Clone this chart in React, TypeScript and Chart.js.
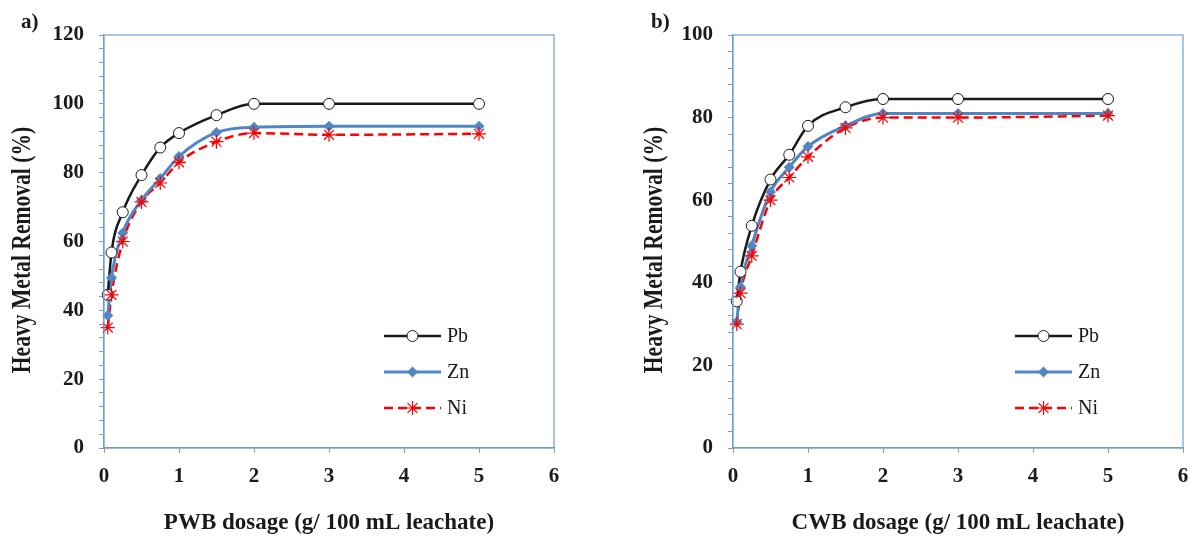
import React, { useEffect, useRef } from "react";
import { Chart, registerables } from "chart.js";
Chart.register(...registerables);

const dosage = [0.05, 0.1, 0.25, 0.5, 0.75, 1, 1.5, 2, 3, 5];

const pwbPb = [44.5, 56.8, 68.5, 79.3, 87.3, 91.5, 96.7, 100, 100, 100];
const pwbZn = [38.5, 49.5, 62.5, 72, 78.3, 84.7, 91.7, 93.2, 93.5, 93.5];
const pwbNi = [35, 44.5, 60, 71.5, 77, 83, 89, 91.5, 91, 91.3];

const cwbPb = [35.5, 42.7, 53.8, 65, 71, 78, 82.5, 84.5, 84.5, 84.5];
const cwbZn = [30.5, 39, 49, 62, 68, 73, 78, 81, 81, 81];
const cwbNi = [30, 37.5, 46.5, 60, 65.5, 70.5, 77.5, 80, 80, 80.5];

const seriesNames = ["Pb", "Zn", "Ni"];
const yTitleText = "Heavy Metal Removal (%)";
const xMin = 0;
const xMax = 6;
const yMaxA = 120;
const yMaxB = 100;
const yLabelStep = 20;
const yMinorStep = 4;

const SERIF = "'Liberation Serif', 'Times New Roman', serif";
const BORDER = "#6F9FD0";
const TICKC = "#9A9A9A";
const TEXTC = "#1a1a1a";

const COLORS = ["#1A1A1A", "#4F86C3", "#FF0000"];

function drawMarker(ctx: CanvasRenderingContext2D, i: number, x: number, y: number) {
  ctx.save();
  ctx.setLineDash([]);
  if (i === 0) {
    ctx.beginPath();
    ctx.arc(x, y, 5.5, 0, Math.PI * 2);
    ctx.fillStyle = "#ffffff";
    ctx.fill();
    ctx.lineWidth = 1;
    ctx.strokeStyle = COLORS[0];
    ctx.stroke();
  } else if (i === 1) {
    const r = 5.5;
    ctx.beginPath();
    ctx.moveTo(x, y - r);
    ctx.lineTo(x + r, y);
    ctx.lineTo(x, y + r);
    ctx.lineTo(x - r, y);
    ctx.closePath();
    ctx.fillStyle = COLORS[1];
    ctx.fill();
  } else {
    const r = 7;
    ctx.strokeStyle = COLORS[2];
    ctx.lineWidth = 1.2;
    ctx.beginPath();
    for (let k = 0; k < 4; k++) {
      const a = (k * Math.PI) / 4;
      ctx.moveTo(x - r * Math.cos(a), y - r * Math.sin(a));
      ctx.lineTo(x + r * Math.cos(a), y + r * Math.sin(a));
    }
    ctx.stroke();
  }
  ctx.restore();
}

function makeLegendPlugin(x0: number, y0: number) {
  return {
    id: "customLegend",
    afterDatasetsDraw(chart: any) {
      const ctx: CanvasRenderingContext2D = chart.ctx;
      chart.data.datasets.forEach((ds: any, i: number) => {
        const y = y0 + i * 36;
        ctx.save();
        ctx.strokeStyle = ds.borderColor;
        ctx.lineWidth = ds.borderWidth;
        ctx.setLineDash(ds.borderDash || []);
        ctx.beginPath();
        ctx.moveTo(x0, y);
        ctx.lineTo(x0 + 57, y);
        ctx.stroke();
        ctx.restore();
        drawMarker(ctx, i, x0 + 28.5, y);
        ctx.save();
        ctx.fillStyle = TEXTC;
        ctx.font = `20px ${SERIF}`;
        ctx.textBaseline = "middle";
        ctx.textAlign = "left";
        ctx.fillText(ds.label, x0 + 63, y + 1);
        ctx.restore();
      });
    },
  };
}

function makeYTitlePlugin(cx: number, cy: number) {
  return {
    id: "yTitle",
    afterDraw(chart: any) {
      const ctx: CanvasRenderingContext2D = chart.ctx;
      ctx.save();
      ctx.translate(cx, cy);
      ctx.rotate(-Math.PI / 2);
      ctx.scale(0.8, 1);
      ctx.fillStyle = TEXTC;
      ctx.font = `bold 27px ${SERIF}`;
      ctx.textAlign = "center";
      ctx.textBaseline = "middle";
      ctx.fillText(yTitleText, 0, 0);
      ctx.restore();
    },
  };
}

const borderPlugin = {
  id: "areaBorder",
  afterDraw(chart: any) {
    const { left, top, right, bottom } = chart.chartArea;
    const ctx: CanvasRenderingContext2D = chart.ctx;
    ctx.save();
    ctx.strokeStyle = BORDER;
    ctx.lineWidth = 1.2;
    ctx.strokeRect(left, top, right - left, bottom - top);
    ctx.restore();
  },
};

const markerPlugin = {
  id: "markers",
  afterDatasetsDraw(chart: any) {
    const ctx: CanvasRenderingContext2D = chart.ctx;
    chart.data.datasets.forEach((ds: any, i: number) => {
      const meta = chart.getDatasetMeta(i);
      meta.data.forEach((pt: any) => drawMarker(ctx, i, pt.x, pt.y));
    });
  },
};

type PanelProps = {
  pb: number[];
  zn: number[];
  ni: number[];
  yMax: number;
  xTitle: string;
  yAxisWidth: number;
  yTitleX: number;
  padRight: number;
  legendX: number;
};

function Panel(p: PanelProps) {
  const ref = useRef<HTMLCanvasElement>(null);
  useEffect(() => {
    if (!ref.current) return;
    const mk = (label: string, data: number[], i: number) => ({
      label,
      data: dosage.map((x, k) => ({ x, y: data[k] })),
      borderColor: COLORS[i],
      backgroundColor: COLORS[i],
      borderWidth: i === 0 ? 2.5 : i === 1 ? 3 : 2.5,
      borderDash: i === 2 ? [9, 5] : [],
      pointRadius: 0,
      cubicInterpolationMode: "monotone" as const,
      fill: false,
    });
    const chart = new Chart(ref.current, {
      type: "line",
      data: {
        datasets: [
          mk(seriesNames[0], p.pb, 0),
          mk(seriesNames[1], p.zn, 1),
          mk(seriesNames[2], p.ni, 2),
        ],
      },
      options: {
        animation: false,
        responsive: false,
        maintainAspectRatio: false,
        layout: { padding: { left: 0, right: p.padRight, top: 35, bottom: 0 } },
        plugins: { legend: { display: false }, tooltip: { enabled: false } },
        scales: {
          x: {
            type: "linear",
            min: xMin,
            max: xMax,
            afterFit: (s: any) => {
              s.height = 88;
              s.paddingLeft = 0;
              s.paddingRight = 0;
            },
            ticks: {
              stepSize: 1,
              autoSkip: false,
              maxRotation: 0,
              padding: 11,
              color: TEXTC,
              font: { family: SERIF, size: 21, weight: "bold" },
            },
            grid: {
              display: true,
              drawOnChartArea: false,
              drawTicks: true,
              tickLength: 5,
              color: TICKC,
            },
            border: { display: true, color: BORDER, width: 1.2 },
            title: {
              display: true,
              text: p.xTitle,
              color: TEXTC,
              font: { family: SERIF, size: 23, weight: "bold", lineHeight: 1 },
              padding: { top: 0, bottom: 1 },
            },
          },
          y: {
            type: "linear",
            min: 0,
            max: p.yMax,
            afterFit: (s: any) => {
              s.width = p.yAxisWidth;
              s.paddingTop = 0;
              s.paddingBottom = 0;
            },
            ticks: {
              stepSize: yMinorStep,
              autoSkip: false,
              padding: 15,
              color: TEXTC,
              font: { family: SERIF, size: 21, weight: "bold" },
              callback: (v: any) => (Number(v) % yLabelStep === 0 ? String(v) : ""),
            },
            grid: {
              display: true,
              drawOnChartArea: false,
              drawTicks: true,
              tickLength: 5,
              color: TICKC,
            },
            border: { display: true, color: BORDER, width: 1.2 },
            title: { display: false },
          },
        },
      },
      plugins: [borderPlugin, markerPlugin, makeLegendPlugin(p.legendX, 336), makeYTitlePlugin(p.yTitleX, 250)],
    } as any);
    return () => chart.destroy();
  }, []);
  return <canvas ref={ref} width={595} height={536} style={{ display: "block", width: 595, height: 536 }} />;
}

export default function App() {
  return (
    <div style={{ position: "fixed", left: 0, top: 0, width: 1190, height: 536, background: "#fff" }}>
      <div style={{ position: "absolute", left: 0, top: 0 }}>
        <Panel
          pb={pwbPb}
          zn={pwbZn}
          ni={pwbNi}
          yMax={yMaxA}
          xTitle="PWB dosage (g/ 100 mL leachate)"
          yAxisWidth={104}
          yTitleX={23}
          padRight={41}
          legendX={384}
        />
      </div>
      <div style={{ position: "absolute", left: 595, top: 0 }}>
        <Panel
          pb={cwbPb}
          zn={cwbZn}
          ni={cwbNi}
          yMax={yMaxB}
          xTitle="CWB dosage (g/ 100 mL leachate)"
          yAxisWidth={138}
          yTitleX={60}
          padRight={7}
          legendX={420}
        />
      </div>
      <div style={{ position: "absolute", left: 21, top: 9, lineHeight: "24px", font: `bold 21px ${SERIF}`, color: TEXTC }}>a)</div>
      <div style={{ position: "absolute", left: 651, top: 9, lineHeight: "24px", font: `bold 21px ${SERIF}`, color: TEXTC }}>b)</div>
    </div>
  );
}
